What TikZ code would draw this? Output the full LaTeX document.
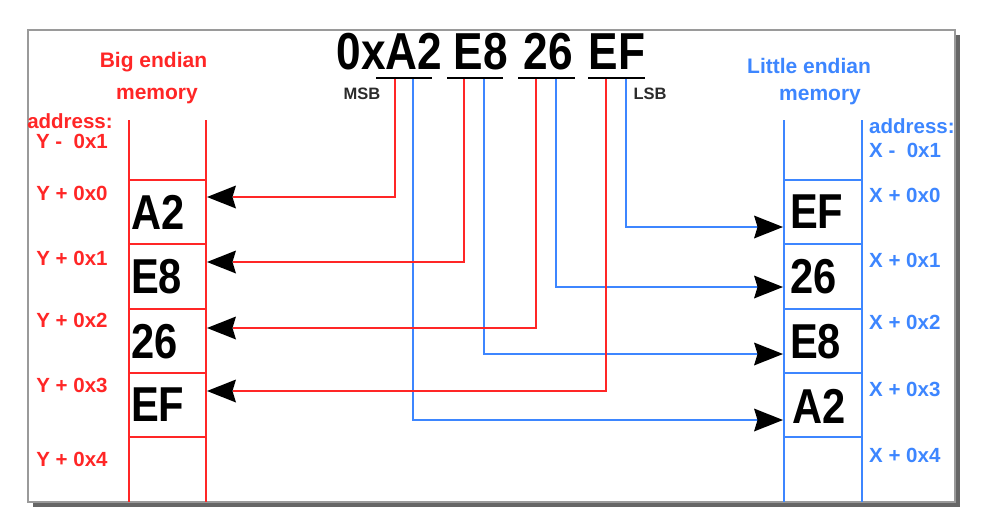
\documentclass[tikz,border=0pt]{standalone}
\usepackage{fontspec}
\setmainfont{Liberation Sans}
\newfontfamily\narrowfont[FakeStretch=0.85]{Liberation Sans}
\usetikzlibrary{arrows.meta}
\definecolor{bered}{HTML}{FF2626}
\definecolor{leblue}{HTML}{3D86FF}
\definecolor{msbgray}{HTML}{2B2B2B}
\definecolor{framegray}{HTML}{9A9A9A}
\definecolor{shadowgray}{HTML}{666666}
\begin{document}
\begin{tikzpicture}[x=1pt,y=-1pt,
  redline/.style={draw=bered,line width=2pt},
  blueline/.style={draw=leblue,line width=2pt},
  arr/.style={-{Stealth[length=29pt,width=23pt,inset=3.5pt,color=black,line width=0pt]}},
  byte/.style={font=\narrowfont\bfseries\fontsize{49}{49}\selectfont,inner sep=0pt,anchor=west},
  hexbig/.style={font=\narrowfont\bfseries\fontsize{52}{52}\selectfont,inner sep=0pt,anchor=base},
  head/.style={font=\bfseries\fontsize{21}{21}\selectfont,inner sep=0pt,anchor=base},
  addr/.style={font=\bfseries\fontsize{20.5}{20.5}\selectfont,inner sep=0pt,anchor=base},
  tag/.style={font=\bfseries\fontsize{16.5}{16.5}\selectfont,text=msbgray,inner sep=0pt},
  uline/.style={draw=black,line width=2pt}]
\useasboundingbox (0,0) rectangle (984,527);
% frame with shadow
\fill[shadowgray] (33,35) rectangle (960,507);
\filldraw[fill=white,draw=framegray,line width=1.5pt] (28,30) rectangle (955,502);

% header value
\node[hexbig] (h0) at (389.5,70) {0xA2};
\node[hexbig] (h1) at (481,70) {E8};
\node[hexbig] (h2) at (548,70) {26};
\node[hexbig] (h3) at (617,70) {EF};
\node[tag] (msb) at (362,94) {MSB};
\node[tag] (lsb) at (650,94) {LSB};

% headings
\node[head,text=bered] (beh1) at (153.5,67.5) {Big endian};
\node[head,text=bered] (beh2) at (157,99) {memory};
\node[head,text=leblue] (leh1) at (809,73) {Little endian};
\node[head,text=leblue] (leh2) at (820,100) {memory};

% big endian memory column
\draw[redline] (129,120) -- (129,502) (206,120) -- (206,502);
\foreach \yy in {180,244,309,373,437} \draw[redline] (129,\yy) -- (206,\yy);
\node[byte] (bA2) at (131,212) {A2};
\node[byte] (bE8) at (131,277) {E8};
\node[byte] (b26) at (131,342) {26};
\node[byte] (bEF) at (131,405) {EF};

% little endian memory column
\draw[blueline] (784,120) -- (784,502) (862,120) -- (862,502);
\foreach \yy in {180,244,309,373,437} \draw[blueline] (784,\yy) -- (862,\yy);
\node[byte] (lEF) at (790,212) {EF};
\node[byte] (l26) at (790,277) {26};
\node[byte] (lE8) at (790,342) {E8};
\node[byte] (lA2) at (792,406) {A2};

% address labels big endian
\node[addr,text=bered] (ba) at (70,128) {address:};
\node[addr,text=bered] (bm1) at (72,148) {Y -\ \ 0x1};
\node[addr,text=bered] (b0) at (72,200) {Y + 0x0};
\node[addr,text=bered] (b1) at (72,265) {Y + 0x1};
\node[addr,text=bered] (b2) at (72,327) {Y + 0x2};
\node[addr,text=bered] (b3) at (72,392) {Y + 0x3};
\node[addr,text=bered] (b4) at (72,466) {Y + 0x4};

% address labels little endian
\node[addr,text=leblue,anchor=base west] (la) at (869,133.5) {address:};
\node[addr,text=leblue,anchor=base west] (lm1) at (869,157.5) {X -\ \ 0x1};
\node[addr,text=leblue,anchor=base west] (l0) at (869,202.5) {X + 0x0};
\node[addr,text=leblue,anchor=base west] (l1) at (869,267.5) {X + 0x1};
\node[addr,text=leblue,anchor=base west] (l2) at (869,329.5) {X + 0x2};
\node[addr,text=leblue,anchor=base west] (l3) at (869,396.5) {X + 0x3};
\node[addr,text=leblue,anchor=base west] (l4) at (869,462.5) {X + 0x4};

% connector start points
\coordinate (rA2) at (395,78); \coordinate (bA2s) at (413,78);
\coordinate (rE8) at (464,78); \coordinate (bE8s) at (484,78);
\coordinate (r26) at (536,78); \coordinate (b26s) at (556,78);
\coordinate (rEF) at (606,78); \coordinate (bEFs) at (626,78);
% connector end points
\coordinate (tbA2) at (207,197); \coordinate (tbE8) at (207,262);
\coordinate (tb26) at (207,328); \coordinate (tbEF) at (207,391);
\coordinate (tlEF) at (783,227); \coordinate (tl26) at (783,287);
\coordinate (tlE8) at (783,354); \coordinate (tlA2) at (783,420);

\draw[blueline,arr] (bA2s) |- (tlA2);
\draw[blueline,arr] (bE8s) |- (tlE8);
\draw[blueline,arr] (b26s) |- (tl26);
\draw[blueline,arr] (bEFs) |- (tlEF);
\draw[redline,arr] (rA2) |- (tbA2);
\draw[redline,arr] (rE8) |- (tbE8);
\draw[redline,arr] (r26) |- (tb26);
\draw[redline,arr] (rEF) |- (tbEF);

% underlines
\draw[uline] (376,78) -- (432,78);
\draw[uline] (447,78) -- (503,78);
\draw[uline] (518,78) -- (575,78);
\draw[uline] (588,78) -- (645,78);
\end{tikzpicture}
\end{document}
